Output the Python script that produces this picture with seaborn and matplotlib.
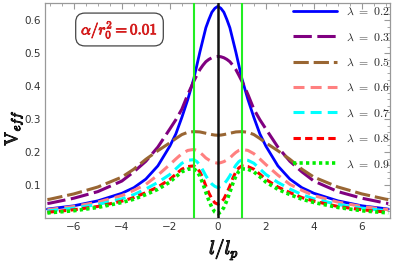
import numpy as np
import matplotlib
matplotlib.use("Agg")
import matplotlib.pyplot as plt
import matplotlib.patheffects as pe
from matplotlib.ticker import MultipleLocator, FixedLocator
import seaborn as sns

# ---- data (curves are symmetric in l) ----
l_half = [0, 0.125, 0.25, 0.375, 0.5, 0.625, 0.75, 0.875, 1, 1.25, 1.5, 1.75, 2, 2.5, 3, 3.5, 4, 5, 6, 7, 7.1]
v_02 = [0.642, 0.636, 0.624, 0.602, 0.577, 0.540, 0.503, 0.463, 0.423, 0.360, 0.305, 0.255, 0.218, 0.158, 0.118, 0.092, 0.075, 0.052, 0.037, 0.028, 0.027]
v_03 = [0.490, 0.489, 0.486, 0.481, 0.474, 0.463, 0.450, 0.433, 0.415, 0.375, 0.330, 0.298, 0.270, 0.215, 0.172, 0.140, 0.112, 0.080, 0.060, 0.045, 0.044]
v_05 = [0.251, 0.2515, 0.253, 0.255, 0.257, 0.259, 0.261, 0.2615, 0.262, 0.260, 0.253, 0.241, 0.228, 0.204, 0.178, 0.148, 0.124, 0.094, 0.073, 0.057, 0.056]
v_06 = [0.166, 0.168, 0.171, 0.176, 0.182, 0.191, 0.199, 0.205, 0.208, 0.205, 0.195, 0.179, 0.162, 0.130, 0.102, 0.084, 0.068, 0.048, 0.035, 0.026, 0.025]
v_07 = [0.092, 0.096, 0.103, 0.114, 0.128, 0.145, 0.160, 0.171, 0.177, 0.175, 0.166, 0.149, 0.132, 0.108, 0.088, 0.071, 0.058, 0.041, 0.030, 0.022, 0.021]
v_08 = [0.042, 0.046, 0.058, 0.076, 0.097, 0.121, 0.140, 0.152, 0.158, 0.156, 0.148, 0.133, 0.117, 0.094, 0.077, 0.062, 0.051, 0.035, 0.025, 0.018, 0.017]
v_09 = [0.013, 0.018, 0.032, 0.053, 0.078, 0.105, 0.127, 0.142, 0.149, 0.148, 0.140, 0.125, 0.109, 0.087, 0.071, 0.057, 0.047, 0.032, 0.022, 0.016, 0.015]
lambdas = ["0.2", "0.3", "0.5", "0.6", "0.7", "0.8", "0.9"]
series = [v_02, v_03, v_05, v_06, v_07, v_08, v_09]
annot = r"$\alpha/r_0^2 = 0.01$"
x_ticks = [-6, -4, -2, 0, 2, 4, 6]
y_ticks = [0.1, 0.2, 0.3, 0.4, 0.5, 0.6]

colors = ["#0000ff", "#800080", "#996633", "#ff8080", "#00ffff", "#ff0000", "#00ee00"]
styles = ["-", (0, (6.0, 1.8)), (0, (5.0, 1.6)), (0, (3.6, 2.0)), (0, (3.6, 2.0)), (0, (2.4, 1.4)), (0, (0.9, 0.9))]
widths = [2.0, 2.2, 2.2, 2.2, 2.2, 2.2, 2.6]

sns.set_theme(style="white")
plt.rcParams["mathtext.fontset"] = "cm"

fig = plt.figure(figsize=(3.96, 2.62), dpi=100)
ax = fig.add_axes([45 / 396, 44 / 262, 345 / 396, 215 / 262])

lh = np.array(l_half)
l_full = np.concatenate([-lh[::-1][:-1], lh])
for lab, v, c, ls, lw in zip(lambdas, series, colors, styles, widths):
    vv = np.array(v)
    v_full = np.concatenate([vv[::-1][:-1], vv])
    sns.lineplot(x=l_full, y=v_full, ax=ax, color=c, linewidth=lw,
                 linestyle=ls, label=r"$\lambda\ =\ %s$" % lab, sort=False,
                 estimator=None)

ax.axvline(0, color="#111111", lw=1.8, zorder=5)
ax.axvline(-1, color="#22ee22", lw=1.5, zorder=5)
ax.axvline(1, color="#22ee22", lw=1.5, zorder=5)

ax.set_xlim(-7.2, 7.17)
ax.set_ylim(0, 0.652)
ax.xaxis.set_major_locator(FixedLocator(x_ticks))
ax.yaxis.set_major_locator(FixedLocator(y_ticks))
ax.xaxis.set_minor_locator(MultipleLocator(0.5))
ax.yaxis.set_minor_locator(MultipleLocator(0.02))
ax.set_xticklabels(["\u2212%d" % abs(t) if t < 0 else "%d" % t for t in x_ticks])
ax.set_yticklabels(["%.1f" % t for t in y_ticks])
ax.tick_params(which="both", direction="in", top=True, right=True,
               color="#999999", labelsize=7.5, labelcolor="#333333")
ax.tick_params(which="major", length=4, width=0.8, pad=3)
ax.tick_params(which="minor", length=2, width=0.6)
for s in ax.spines.values():
    s.set_color("#999999")
    s.set_linewidth(0.9)

stroke_k = [pe.withStroke(linewidth=0.7, foreground="black")]
fig.text(14 / 396, 1 - 128 / 262, r"$\mathrm{V}_{eff}$", rotation=90,
         fontsize=13, ha="center", va="center", path_effects=stroke_k)
fig.text(224 / 396, 1 - 249 / 262, r"$l/l_p$", fontsize=14,
         ha="center", va="center", path_effects=stroke_k)

ax.text(119.5 / 396, 1 - 29.5 / 262, annot, transform=fig.transFigure,
        fontsize=11, color="#d41e1e", ha="center", va="center",
        path_effects=[pe.withStroke(linewidth=0.6, foreground="#d41e1e")],
        bbox=dict(boxstyle="round,pad=0.35,rounding_size=0.6",
                  fc="white", ec="#444444", lw=0.9), zorder=10)

leg = ax.legend(loc="upper left", bbox_to_anchor=(293 / 396, 1 - 5 / 262),
                bbox_transform=fig.transFigure, frameon=False, fontsize=8.5,
                handlelength=3.7, handletextpad=0.8, labelspacing=1.05,
                borderpad=0, borderaxespad=0)

fig.savefig("out.png", dpi=100)
